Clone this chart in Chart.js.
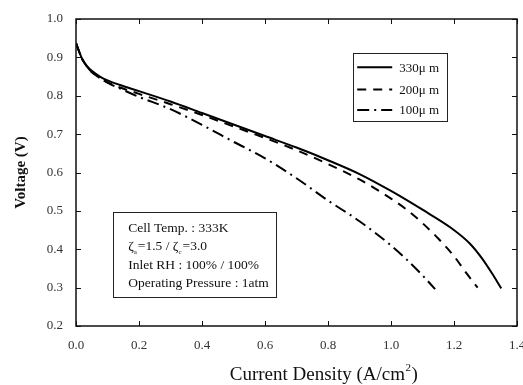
<!DOCTYPE html>
<html>
<head>
<meta charset="utf-8">
<script src="https://cdn.jsdelivr.net/npm/chart.js@4/dist/chart.umd.min.js"></script>
<style>
  html, body { margin: 0; padding: 0; background: #fff; }
  #c { display: block; }
</style>
</head>
<body>
<canvas id="c" width="523" height="385"></canvas>
<script>
// ---- data ----
const seriesLabels = ['330\u03bc m', '200\u03bc m', '100\u03bc m'];

const current330 = [0, 0.01, 0.02, 0.035, 0.05, 0.076, 0.1, 0.14, 0.2, 0.3, 0.4, 0.5, 0.6, 0.7, 0.8, 0.9, 1.0, 1.1, 1.19, 1.25, 1.29, 1.32, 1.35];
const voltage330 = [0.937, 0.915, 0.895, 0.877, 0.865, 0.85, 0.84, 0.828, 0.812, 0.785, 0.755, 0.725, 0.695, 0.665, 0.632, 0.596, 0.552, 0.503, 0.456, 0.415, 0.375, 0.338, 0.298];

const current200 = [0, 0.01, 0.02, 0.035, 0.05, 0.1, 0.2, 0.3, 0.4, 0.5, 0.6, 0.7, 0.8, 0.9, 0.95, 1.0, 1.05, 1.1, 1.15, 1.2, 1.24, 1.275];
const voltage200 = [0.937, 0.915, 0.895, 0.876, 0.862, 0.835, 0.805, 0.778, 0.75, 0.72, 0.69, 0.658, 0.622, 0.582, 0.558, 0.532, 0.503, 0.468, 0.428, 0.382, 0.337, 0.30];

const current100 = [0, 0.01, 0.02, 0.035, 0.05, 0.1, 0.15, 0.2, 0.3, 0.4, 0.5, 0.6, 0.7, 0.8, 0.9, 1.0, 1.05, 1.1, 1.14];
const voltage100 = [0.937, 0.915, 0.895, 0.876, 0.862, 0.834, 0.815, 0.797, 0.765, 0.724, 0.68, 0.637, 0.585, 0.527, 0.473, 0.41, 0.373, 0.332, 0.296];

const xTickValues = [0, 0.2, 0.4, 0.6, 0.8, 1.0, 1.2, 1.4];
const yTickValues = [0.2, 0.3, 0.4, 0.5, 0.6, 0.7, 0.8, 0.9, 1.0];

const xTitle = 'Current Density (A/cm';
const xTitleSup = '2';
const infoLines = ['Cell Temp. : 333K', null, 'Inlet RH : 100% / 100%', 'Operating Pressure : 1atm'];

// ---- styling ----
const SERIF = '"Liberation Serif", "Times New Roman", serif';
const dashes = [[], [9, 7], [12, 5, 2, 5]];

function pts(xs, ys) { return xs.map((x, i) => ({ x: x, y: ys[i] })); }

const datasets = [
  { label: seriesLabels[0], data: pts(current330, voltage330), borderDash: dashes[0], borderWidth: 2 },
  { label: seriesLabels[1], data: pts(current200, voltage200), borderDash: dashes[1], borderWidth: 2 },
  { label: seriesLabels[2], data: pts(current100, voltage100), borderDash: dashes[2], borderWidth: 2 }
].map(d => Object.assign(d, {
  showLine: true, pointRadius: 0, borderColor: '#000', backgroundColor: '#000',
  cubicInterpolationMode: 'monotone', fill: false
}));

const framePlugin = {
  id: 'frame',
  afterDatasetsDraw(chart) {
    const { ctx, chartArea: a, scales: { x, y } } = chart;
    ctx.save();
    ctx.strokeStyle = '#111';
    ctx.lineWidth = 1.5;
    ctx.strokeRect(a.left, a.top, a.right - a.left, a.bottom - a.top);
    ctx.lineWidth = 1;
    const L = 5;
    ctx.beginPath();
    xTickValues.forEach(v => {
      const px = Math.round(x.getPixelForValue(v)) + 0.5;
      ctx.moveTo(px, a.bottom); ctx.lineTo(px, a.bottom - L);
      ctx.moveTo(px, a.top); ctx.lineTo(px, a.top + L);
    });
    yTickValues.forEach(v => {
      const py = Math.round(y.getPixelForValue(v)) + 0.5;
      ctx.moveTo(a.left, py); ctx.lineTo(a.left + L, py);
      ctx.moveTo(a.right, py); ctx.lineTo(a.right - L, py);
    });
    ctx.stroke();
    ctx.restore();
  },
  afterDraw(chart) {
    const { ctx, scales: { x, y } } = chart;
    ctx.save();
    // legend box (anchored to data coordinates)
    const lx0 = x.getPixelForValue(0.88), lx1 = x.getPixelForValue(1.178);
    const ly0 = y.getPixelForValue(0.911), ly1 = y.getPixelForValue(0.734);
    ctx.strokeStyle = '#222';
    ctx.lineWidth = 1;
    ctx.strokeRect(Math.round(lx0) + 0.5, Math.round(ly0) + 0.5, Math.round(lx1 - lx0), Math.round(ly1 - ly0));
    const rowY = [0.874, 0.816, 0.763].map(v => y.getPixelForValue(v));
    ctx.font = '13px ' + SERIF;
    ctx.fillStyle = '#111';
    ctx.textBaseline = 'middle';
    datasets.forEach((d, i) => {
      ctx.beginPath();
      ctx.setLineDash(d.borderDash);
      ctx.lineWidth = 2;
      ctx.strokeStyle = '#000';
      ctx.moveTo(lx0 + 4, rowY[i]);
      ctx.lineTo(lx0 + 39, rowY[i]);
      ctx.stroke();
      ctx.setLineDash([]);
      ctx.fillText(d.label, lx0 + 46, rowY[i] + 1);
    });

    // info box
    const bx0 = x.getPixelForValue(0.118), bx1 = x.getPixelForValue(0.636);
    const by0 = y.getPixelForValue(0.497), by1 = y.getPixelForValue(0.2756);
    ctx.lineWidth = 1;
    ctx.strokeStyle = '#222';
    ctx.strokeRect(Math.round(bx0) + 0.5, Math.round(by0) + 0.5, Math.round(bx1 - bx0), Math.round(by1 - by0));
    const tx = bx0 + 15;
    const lineY = [0.453, 0.406, 0.357, 0.310].map(v => y.getPixelForValue(v));
    const big = '13.5px ' + SERIF, small = '7px ' + SERIF;
    ctx.font = big;
    ctx.fillStyle = '#111';
    ctx.textBaseline = 'middle';
    infoLines.forEach((t, i) => { if (t) ctx.fillText(t, tx, lineY[i]); });
    // stoichiometry line with subscripts
    let cx = tx;
    const ly = lineY[1];
    const parts = [['\u03b6', big, 0], ['a', small, 5], ['=1.5 / \u03b6', big, 0], ['c', small, 5], ['=3.0', big, 0]];
    parts.forEach(p => {
      ctx.font = p[1];
      ctx.fillText(p[0], cx, ly + p[2]);
      cx += ctx.measureText(p[0]).width + (p[1] === small ? 1 : 0);
    });

    // x-axis title (placed as in the reference, right of centre)
    ctx.font = '19px ' + SERIF;
    ctx.fillStyle = '#111';
    ctx.textBaseline = 'alphabetic';
    const w1 = ctx.measureText(xTitle).width;
    ctx.font = '11px ' + SERIF;
    const w2 = ctx.measureText(xTitleSup).width;
    ctx.font = '19px ' + SERIF;
    const w3 = ctx.measureText(')').width;
    const tcx = x.getPixelForValue(0.785);
    let sx = tcx - (w1 + w2 + w3) / 2;
    const by = chart.height - 5;
    ctx.fillText(xTitle, sx, by);
    sx += w1;
    ctx.font = '11px ' + SERIF;
    ctx.fillText(xTitleSup, sx + 0.5, by - 9);
    sx += w2 + 1;
    ctx.font = '19px ' + SERIF;
    ctx.fillText(')', sx, by);
    ctx.restore();
  }
};

new Chart(document.getElementById('c'), {
  type: 'scatter',
  data: { datasets: datasets },
  plugins: [framePlugin],
  options: {
    responsive: false,
    devicePixelRatio: 1,
    animation: false,
    layout: { padding: { top: 19, right: 6, bottom: 0, left: 0 } },
    plugins: { legend: { display: false }, tooltip: { enabled: false } },
    scales: {
      x: {
        type: 'linear', min: 0, max: 1.4,
        afterBuildTicks(s) { s.ticks = xTickValues.map(v => ({ value: v })); },
        afterFit(s) { s.height = 59; s.paddingLeft = 0; s.paddingRight = 0; },
        grid: { display: false },
        border: { display: false },
        ticks: {
          padding: 4, color: '#333', maxRotation: 0, autoSkip: false,
          font: { family: SERIF, size: 13 },
          callback: v => Number(v).toFixed(1)
        },
        title: { display: false }
      },
      y: {
        type: 'linear', min: 0.2, max: 1.0,
        afterBuildTicks(s) { s.ticks = yTickValues.map(v => ({ value: v })); },
        afterFit(s) { s.width = 76; s.paddingTop = 0; s.paddingBottom = 0; },
        grid: { display: false },
        border: { display: false },
        ticks: {
          padding: 5, color: '#333', autoSkip: false,
          font: { family: SERIF, size: 13 },
          callback: v => Number(v).toFixed(1)
        },
        title: {
          display: true, text: 'Voltage (V)', color: '#111',
          font: { family: SERIF, size: 15, weight: 'bold' }, padding: { top: 12, bottom: 0 }
        }
      }
    }
  }
});
</script>
</body>
</html>
